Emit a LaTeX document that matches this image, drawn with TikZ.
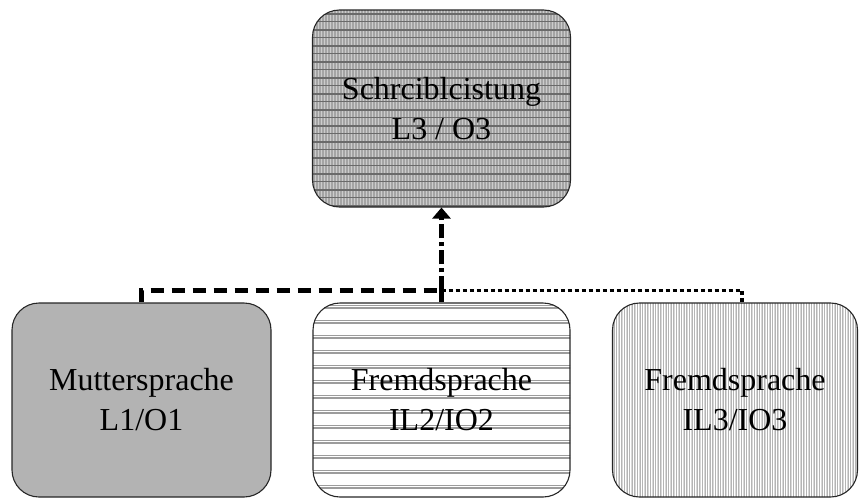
\documentclass[tikz,border=0pt]{standalone}
\usepackage{fontspec}
\setmainfont{Liberation Serif}
\usetikzlibrary{arrows.meta}

\definecolor{topbase}{HTML}{A4A4A4}
\definecolor{topdark}{HTML}{6A6A6A}
\definecolor{toplight}{HTML}{CCCCCC}
\definecolor{leftfill}{HTML}{B3B3B3}
\definecolor{midline}{HTML}{9C9C9C}
\definecolor{rightbase}{HTML}{D8D8D8}
\definecolor{rightdark}{HTML}{B4B4B4}

\tikzset{
  box/.style={draw=black!85, line width=1.1pt, rounded corners=27pt,
    align=center, inner sep=0pt, font=\fontsize{32}{40}\selectfont},
  % grey box crossed by light vertical and dark horizontal stripes
  gridfill/.style={path picture={
    \fill[topbase] (path picture bounding box.south west) rectangle (path picture bounding box.north east);
    \foreach \i in {0,...,90}
      \draw[toplight, line width=0.9pt] ([xshift=\i*3pt]path picture bounding box.north west) -- ++(0,-300pt);
    \foreach \i in {0,...,13} {
      \draw[topdark, line width=2.4pt] ([yshift=-\i*16pt-4pt]path picture bounding box.north west) -- ++(300pt,0);
      \draw[topdark, line width=1pt] ([yshift=-\i*16pt-11pt]path picture bounding box.north west) -- ++(300pt,0);
    }}},
  % white box with bundles of thin horizontal lines
  hlinefill/.style={path picture={
    \foreach \i in {0,...,14}
      \foreach \d in {0,1.8,3.6}
        \draw[midline, line width=0.6pt] ([yshift=-\i*15pt-\d pt-2pt]path picture bounding box.north west) -- ++(300pt,0);
    }},
  % light grey box with fine vertical lines
  vlinefill/.style={path picture={
    \fill[rightbase] (path picture bounding box.south west) rectangle (path picture bounding box.north east);
    \foreach \i in {0,...,100} {
      \draw[white, line width=0.7pt] ([xshift=\i*2.6pt]path picture bounding box.north west) -- ++(0,-300pt);
      \draw[rightdark, line width=0.6pt] ([xshift=\i*2.6pt+1.3pt]path picture bounding box.north west) -- ++(0,-300pt);
    }}},
  dashlink/.style={line width=4.2pt, dash pattern=on 13pt off 8pt},
  dotlink/.style={line width=3.8pt, dash pattern=on 4pt off 3pt},
  dashdotlink/.style={line width=4.2pt, dash pattern=on 14pt off 4pt on 4pt off 4pt}
}

\begin{document}
\begin{tikzpicture}[x=1pt, y=-1pt]
  \useasboundingbox (0,0) rectangle (860,498);

  \node[box, gridfill, minimum width=258pt, minimum height=197pt] (top) at (441.5,108.5)
    {Schrciblcistung\\L3 / O3};
  \node[box, fill=leftfill, minimum width=259pt, minimum height=194pt] (left) at (141.5,400)
    {Muttersprache\\L1/O1};
  \node[box, hlinefill, minimum width=257pt, minimum height=194pt] (mid) at (441.5,400)
    {Fremdsprache\\IL2/IO2};
  \node[box, vlinefill, minimum width=245pt, minimum height=194pt] (right) at (735,400)
    {Fremdsprache\\IL3/IO3};

  % junction above the middle box
  \coordinate (hub) at ([yshift=12pt]mid.north);
  \coordinate (rend) at ([xshift=7pt]right.north);

  \draw[dashlink] (left.north) |- (hub);
  \draw[dotlink] (hub) -| (rend);
  \draw[line width=4.2pt] (mid.north) -- (hub);
  \draw[dashdotlink, -{Triangle[width=18pt,length=11pt]}] (hub) -- (top.south);
\end{tikzpicture}
\end{document}
